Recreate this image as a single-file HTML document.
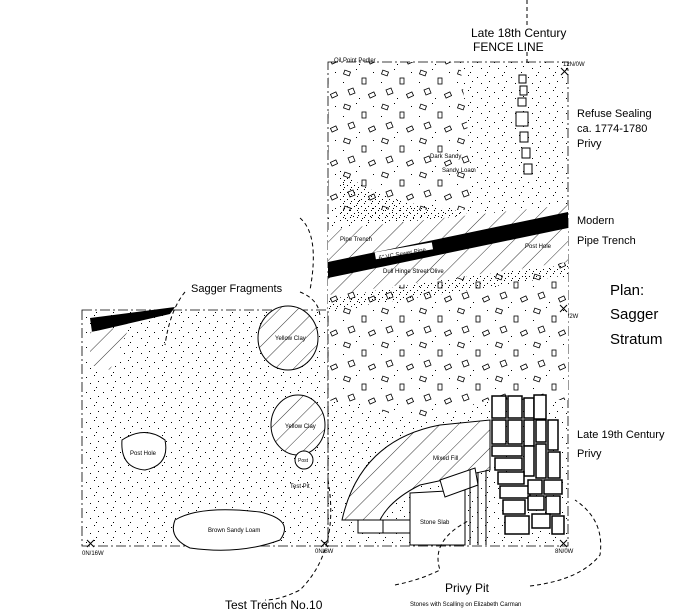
<!DOCTYPE html>
<html><head><style>
html,body{margin:0;padding:0;background:#fff;width:700px;height:610px;overflow:hidden}
svg{display:block}
text{font-family:"Liberation Sans",sans-serif;fill:#000}
</style></head><body>
<svg width="700" height="610" viewBox="0 0 700 610" xmlns="http://www.w3.org/2000/svg">
<defs>
<pattern id="dots" width="17" height="15" patternUnits="userSpaceOnUse">
<rect x="1" y="2" width="1" height="1"/><rect x="9" y="0" width="1" height="1"/><rect x="5" y="8" width="1" height="1"/><rect x="13" y="6" width="1" height="1"/><rect x="11" y="12" width="1" height="1"/>
</pattern>
<pattern id="dense" width="7" height="7" patternUnits="userSpaceOnUse">
<rect x="0" y="0" width="1" height="1"/><rect x="4" y="3" width="1" height="1"/><rect x="1" y="5" width="1" height="1"/>
</pattern>
<pattern id="rocks" width="38" height="34" patternUnits="userSpaceOnUse">
<rect x="2" y="3" width="6" height="4" fill="none" stroke="#000" stroke-width="0.8" transform="rotate(20 5 5)"/>
<rect x="20" y="10" width="4" height="6" fill="none" stroke="#000" stroke-width="0.8"/>
<path d="M6 22 l5 -2 l2 5 l-5 2z" fill="none" stroke="#000" stroke-width="0.8"/>
<rect x="27" y="25" width="6" height="4" fill="none" stroke="#000" stroke-width="0.8" transform="rotate(-25 30 27)"/>
<rect x="14" y="1" width="1" height="1"/><rect x="31" y="4" width="1" height="1"/><rect x="1" y="14" width="1" height="1"/><rect x="17" y="30" width="1" height="1"/>
</pattern>
<pattern id="hatch" width="13" height="13" patternUnits="userSpaceOnUse" patternTransform="rotate(45)">
<line x1="0" y1="0" x2="0" y2="13" stroke="#000" stroke-width="0.8"/>
</pattern>
</defs>

<rect x="328" y="62" width="240" height="484" fill="url(#dots)"/>
<path d="M328 62 H460 L470 150 L470 210 H328Z" fill="#fff"/>
<path d="M328 62 H460 L470 150 L470 210 H328Z" fill="url(#rocks)"/>
<path d="M340 170 Q380 205 470 212 L440 222 H340Z" fill="url(#dense)"/>
<rect x="328" y="62" width="240" height="484" fill="none" stroke="#000" stroke-width="0.8" stroke-dasharray="10,3,2,3"/>
<g fill="#fff" stroke="#000" stroke-width="1">
<rect x="519" y="75" width="7" height="8"/><rect x="520" y="86" width="7" height="9"/><rect x="518" y="98" width="8" height="8"/><rect x="516" y="112" width="12" height="14"/><rect x="520" y="132" width="8" height="10"/><rect x="522" y="148" width="8" height="10"/><rect x="524" y="164" width="8" height="10"/>
</g>
<path d="M328 230 L568 205 L568 262 L430 290 L328 300Z" fill="#fff"/>
<path d="M328 230 L568 205 L568 262 L430 290 L328 300Z" fill="url(#hatch)"/>
<path d="M328 262 L568 212 L568 228 L328 278Z" fill="#000"/>
<rect x="375" y="248" width="58" height="7" fill="#fff" transform="rotate(-10 400 252)"/>
<text x="378" y="256" font-size="6" transform="rotate(-10 400 252)">6" VC Sewer Pipe</text>
<text x="340" y="241" font-size="6">Pipe Trench</text>
<text x="383" y="273" font-size="6">Dull Hinge Street Olive</text>
<text x="525" y="248" font-size="6">Post Hole</text>
<text x="430" y="158" font-size="6">Dark Sandy</text>
<text x="442" y="172" font-size="6">Sandy Loam</text>
<text x="334" y="62" font-size="6">Oil Point Pedler</text>
<text x="563" y="66" font-size="6">12N/0W</text>
<text x="560" y="318" font-size="6">8N/2W</text>
<text x="555" y="553" font-size="6">8N/0W</text>
<path d="M328 295 L568 262 L568 400 L490 400 L420 420 L328 400Z" fill="#fff"/>
<path d="M328 295 L568 262 L568 400 L490 400 L420 420 L328 400Z" fill="url(#rocks)"/>
<path d="M328 300 Q420 280 568 265 L568 275 Q440 295 328 310Z" fill="url(#dense)"/>
<rect x="82" y="310" width="246" height="236" fill="url(#dots)"/>
<rect x="82" y="310" width="246" height="236" fill="none" stroke="#000" stroke-width="0.8" stroke-dasharray="10,3,2,3"/>
<path d="M90 318 L175 307 L170 314 L92 332Z" fill="#000"/>
<path d="M90 332 L130 326 L110 370 L90 365Z" fill="#fff"/>
<path d="M90 332 L130 326 L110 370 L90 365Z" fill="url(#hatch)"/>
<ellipse cx="288" cy="338" rx="30" ry="32" fill="#fff"/><ellipse cx="288" cy="338" rx="30" ry="32" fill="url(#hatch)" stroke="#000"/>
<ellipse cx="298" cy="425" rx="27" ry="30" fill="#fff"/><ellipse cx="298" cy="425" rx="27" ry="30" fill="url(#hatch)" stroke="#000"/>
<text x="275" y="340" font-size="6">Yellow Clay</text>
<text x="285" y="428" font-size="6">Yellow Clay</text>
<path d="M122 440 Q145 425 165 440 Q170 465 145 470 Q120 468 122 440Z" fill="#fff" stroke="#000"/>
<text x="130" y="455" font-size="6">Post Hole</text>
<ellipse cx="304" cy="460" rx="9" ry="9" fill="#fff" stroke="#000"/>
<text x="298" y="462" font-size="5">Post</text>
<path d="M175 520 Q200 505 260 512 Q295 520 280 540 Q240 555 190 548 Q168 538 175 520Z" fill="#fff" stroke="#000"/>
<text x="208" y="532" font-size="6">Brown Sandy Loam</text>
<text x="290" y="488" font-size="6">Test Pit</text>
<text x="82" y="555" font-size="6">0N/16W</text>
<text x="315" y="553" font-size="6">0N/8W</text>
<path d="M342 520 Q360 440 440 425 L490 420 L490 470 L420 485 Q390 500 380 520Z" fill="#fff"/>
<path d="M342 520 Q360 440 440 425 L490 420 L490 470 L420 485 Q390 500 380 520Z" fill="url(#hatch)" stroke="#000"/>
<rect x="358" y="520" width="52" height="13" fill="#fff" stroke="#000"/>
<line x1="383" y1="520" x2="383" y2="533" stroke="#000"/>
<path d="M410 493 L465 490 L465 545 L410 545Z" fill="#fff" stroke="#000"/>
<text x="420" y="524" font-size="6">Stone Slab</text>
<path d="M440 480 L475 468 L478 485 L445 497Z" fill="#fff" stroke="#000"/>
<text x="433" y="460" font-size="6">Mixed Fill</text>
<line x1="470" y1="470" x2="470" y2="545" stroke="#000"/><line x1="478" y1="472" x2="478" y2="545" stroke="#000"/><line x1="486" y1="470" x2="486" y2="545" stroke="#000"/>
<g fill="#fff" stroke="#000" stroke-width="1.5">
<rect x="492" y="396" width="14" height="22"/><rect x="508" y="396" width="14" height="22"/><rect x="524" y="398" width="10" height="20"/><rect x="534" y="395" width="12" height="24"/>
<rect x="492" y="420" width="14" height="24"/><rect x="508" y="420" width="14" height="24"/><rect x="524" y="420" width="10" height="26"/><rect x="536" y="420" width="10" height="22"/><rect x="548" y="420" width="10" height="30"/>
<rect x="492" y="446" width="30" height="10"/><rect x="524" y="446" width="10" height="30"/><rect x="536" y="444" width="10" height="34"/><rect x="548" y="452" width="12" height="26"/>
<rect x="495" y="458" width="27" height="12"/><rect x="498" y="472" width="26" height="12"/><rect x="500" y="486" width="30" height="12"/><rect x="528" y="480" width="14" height="14"/><rect x="544" y="480" width="18" height="14"/>
<rect x="503" y="500" width="22" height="14"/><rect x="528" y="496" width="16" height="14"/><rect x="546" y="496" width="14" height="18"/>
<rect x="505" y="516" width="24" height="18"/><rect x="532" y="514" width="18" height="14"/><rect x="552" y="516" width="12" height="18"/>
</g>
<g stroke="#000" fill="none">
<path d="M561 68 l7 7 m0 -7 l-7 7"/><path d="M560 305 l7 7 m0 -7 l-7 7"/><path d="M87 540 l7 7 m0 -7 l-7 7"/><path d="M321 540 l7 7 m0 -7 l-7 7"/><path d="M560 540 l7 7 m0 -7 l-7 7"/>
</g>
<g stroke="#000" fill="none" stroke-dasharray="4,3">
<line x1="527" y1="0" x2="527" y2="25"/>
<line x1="527" y1="52" x2="527" y2="65"/>
<path d="M185 292 Q170 310 165 345"/>
<path d="M300 292 Q320 300 320 318"/>
<path d="M300 218 Q320 235 310 290"/>
<path d="M328 480 Q340 550 300 590 Q280 600 265 600"/>
<path d="M395 585 Q420 580 440 570 Q430 540 470 520"/>
<path d="M530 586 Q580 580 600 555 Q605 520 575 500"/>
</g>
<text x="471" y="37" font-size="12">Late 18th Century</text>
<text x="473" y="51" font-size="12">FENCE LINE</text>
<text x="577" y="117" font-size="11">Refuse Sealing</text>
<text x="577" y="132" font-size="11">ca. 1774-1780</text>
<text x="577" y="147" font-size="11">Privy</text>
<text x="577" y="224" font-size="11">Modern</text>
<text x="577" y="244" font-size="11">Pipe Trench</text>
<text x="610" y="295" font-size="15">Plan:</text>
<text x="610" y="319" font-size="15">Sagger</text>
<text x="610" y="344" font-size="15">Stratum</text>
<text x="191" y="292" font-size="11">Sagger Fragments</text>
<text x="577" y="438" font-size="11">Late 19th Century</text>
<text x="577" y="457" font-size="11">Privy</text>
<text x="445" y="592" font-size="12">Privy Pit</text>
<text x="410" y="606" font-size="6">Stones with Scalling on Elizabeth Carman</text>
<text x="225" y="609" font-size="12">Test Trench No.10</text>
</svg>
</body></html>
